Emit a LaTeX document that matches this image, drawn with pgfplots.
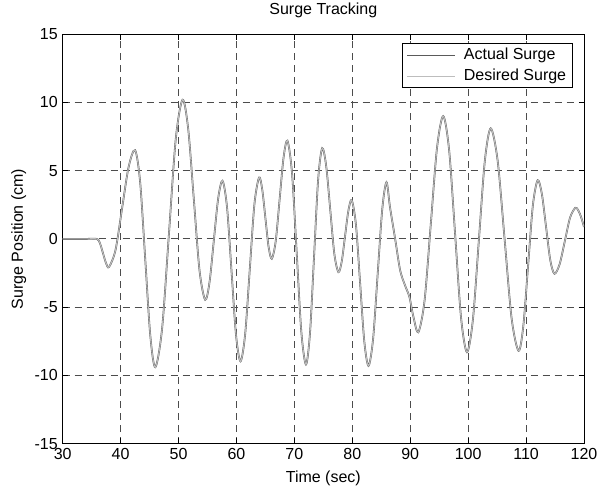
\documentclass[border=0pt]{standalone}
\usepackage{fontspec}
\setmainfont{Liberation Sans}
\usepackage{pgfplots}
\usepackage{pgfplotstable}
\pgfplotsset{compat=1.18}
\definecolor{actualc}{HTML}{5A5A5A}
\definecolor{desiredc}{HTML}{BDBDBD}
\pgfplotstableread{
t v
30 0
32 0
34 0
35.9 0
36.425 -0.30
36.95 -1.03
37.475 -1.76
38.0 -2.06
39.125 -0.81
40.25 2.22
41.375 5.25
42.5 6.5
43.375 4.17
44.25 -1.45
45.125 -7.07
46.0 -9.4
47.175 -6.53
48.35 0.4
49.525 7.33
50.7 10.2
51.675 8.05
52.65 2.87
53.625 -2.31
54.6 -4.46
55.35 -3.18
56.1 -0.1
56.85 2.98
57.6 4.26
58.375 2.32
59.15 -2.36
59.925 -7.03
60.7 -8.97
61.5 -7.0
62.3 -2.24
63.1 2.53
63.9 4.5
64.45 3.63
65.0 1.53
65.55 -0.58
66.1 -1.45
66.775 -0.18
67.45 2.88
68.125 5.93
68.8 7.2
69.6 4.80
70.4 -1.0
71.2 -6.80
72.0 -9.2
72.7 -6.88
73.4 -1.28
74.1 4.33
74.8 6.65
75.5 5.32
76.2 2.11
76.9 -1.10
77.6 -2.43
78.175 -1.66
78.75 0.21
79.325 2.07
79.9 2.84
80.625 1.06
81.35 -3.23
82.075 -7.52
82.8 -9.3
83.59 -7.33
84.38 -2.58
85.17 2.17
85.9 4.16
86.5 2.35
87.4 0
88.26 -2.3
89.1 -3.4
89.86 -4.25
90.55 -5.7
91.4 -6.84
92.475 -4.52
93.55 1.08
94.625 6.68
95.7 9.0
96.725 6.47
97.75 0.35
98.775 -5.77
99.8 -8.3
100.825 -5.90
101.85 -0.1
102.875 5.70
103.9 8.1
105.1 5.71
106.3 -0.05
107.5 -5.81
108.7 -8.2
109.525 -6.37
110.35 -1.95
111.175 2.47
112.0 4.3
112.725 3.30
113.45 0.88
114.175 -1.55
114.9 -2.55
115.8 -1.84
116.7 -0.14
117.6 1.57
118.5 2.28
119.0 2.1
119.5 1.6
120 0.88
}\surge
\begin{document}
\begin{tikzpicture}
\begin{axis}[
  scale only axis,
  width=391pt, height=307pt,
  xmin=30, xmax=120, ymin=-15, ymax=15,
  xtick={30,40,...,120}, ytick={-15,-10,...,15},
  font=\fontsize{12}{14.4}\selectfont,
  /pgf/number format/assume math mode=true,
  axis line style={line width=0.75pt},
  tick align=inside, major tick length=4pt,
  tick style={black, line width=0.75pt},
  grid=major,
  major grid style={black!70, line width=0.75pt, dash pattern=on 5.25pt off 3.75pt},
  xticklabel style={anchor=base, yshift=-12.2pt, inner sep=0pt},
  yticklabel style={anchor=east, xshift=-3.5pt, inner sep=0pt},
  title={Surge Tracking},
  title style={at={(axis description cs:0.5,1.0283)}, anchor=base, inner sep=0pt},
  xlabel={Time (sec)},
  xlabel style={at={(axis description cs:0.5,-0.0945)}, anchor=base, inner sep=0pt},
  ylabel={Surge Position (cm)},
  ylabel style={at={(axis description cs:-0.0762,0.5)}, anchor=base, rotate=0, inner sep=0pt},
  legend cell align=left,
  legend image code/.code={\draw[#1] (0pt,0pt) -- (36pt,0pt);},
  legend style={at={(axis description cs:1,1)}, anchor=north east, xshift=-8pt, yshift=-6.3pt,
    draw=black, line width=0.75pt, fill=white, inner xsep=3pt, inner ysep=1pt, row sep=0pt,
    nodes={inner ysep=2.3pt, inner xsep=2pt, text height=8.6pt, text depth=2.6pt},
    /tikz/every odd column/.append style={column sep=4pt},
    font=\fontsize{12}{14.4}\selectfont},
]
\addplot[actualc, line width=1.3pt, smooth, forget plot] table[x=t, y=v] {\surge};
\addplot[desiredc, line width=0.8pt, smooth, forget plot] table[x=t, y=v] {\surge};
\addlegendimage{actualc, line width=0.75pt}
\addlegendentry{Actual Surge}
\addlegendimage{desiredc, line width=0.75pt}
\addlegendentry{Desired Surge}
\end{axis}
\path ([xshift=-47pt,yshift=-35.5pt]current axis.south west) rectangle ([xshift=16.5pt,yshift=25.7pt]current axis.north east);
\end{tikzpicture}
\end{document}
